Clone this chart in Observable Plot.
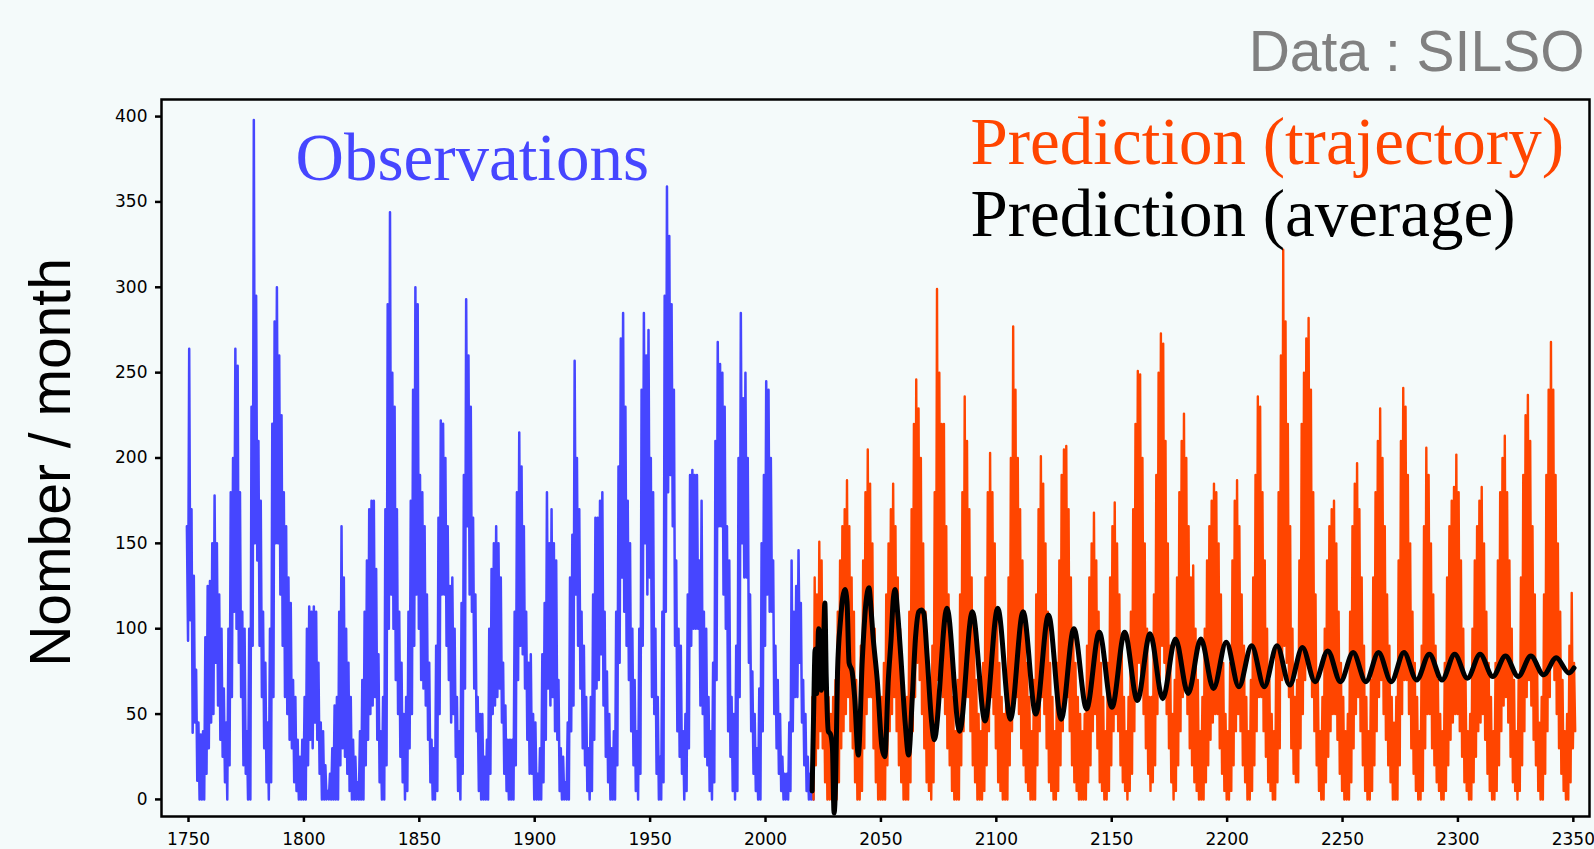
<!DOCTYPE html>
<html>
<head>
<meta charset="utf-8">
<script src="https://cdn.jsdelivr.net/npm/d3@7"></script>
<script src="https://cdn.jsdelivr.net/npm/@observablehq/plot@0.6"></script>
<style>
  html, body { margin: 0; padding: 0; background: #f4fafa; }
  #chart svg { display: block; }
</style>
</head>
<body>
<div id="chart"></div>
<script>
// Monthly sunspot number, summarised per year as the highest and lowest monthly value.
const obsStart = 1749;
const obsHigh = [
  160,264,170,131,76,45,38,40,95,125,
  128,150,178,150,120,100,65,45,100,180,
  200,264,254,180,110,100,40,100,230,398,
  295,210,175,110,80,45,100,220,280,300,
  260,225,180,160,130,115,70,60,35,25,
  35,60,100,113,110,113,110,80,45,40,
  20,5,15,30,55,60,110,160,130,100,
  80,60,35,25,10,40,70,110,140,170,
  175,175,135,85,40,60,170,290,344,250,
  230,170,110,80,50,60,110,175,240,300,
  290,190,180,160,120,80,35,30,90,165,
  222,220,200,160,125,130,100,60,40,115,
  190,293,260,230,165,120,60,50,50,25,
  35,100,135,150,160,150,130,80,55,35,
  35,35,110,180,215,195,160,110,80,85,
  50,45,15,30,85,115,180,150,170,150,
  140,70,30,25,10,45,130,155,257,200,
  170,110,90,60,30,60,120,165,165,175,
  180,110,75,50,30,40,110,195,270,285,
  230,175,150,100,70,40,100,240,285,260,
  275,200,180,100,60,25,110,295,359,330,
  290,240,140,100,90,40,50,120,190,193,
  190,190,140,175,110,100,60,40,80,210,
  268,255,250,230,160,140,60,50,90,200,
  285,235,250,200,120,75,50,30,65,150,
  190,245,240,200,140,90,70,50,25,15,
  15,45,140,110,125,146,115,70,50,25,
  15,25
];
const obsLow = [
  93,105,39,45,11,0,0,0,15,30,
  45,50,80,55,35,25,10,0,20,60,
  110,100,80,60,20,15,0,0,90,150,
  140,90,60,30,10,0,10,60,150,150,
  120,90,60,50,35,30,10,5,0,0,
  0,0,20,35,30,45,35,15,0,0,
  0,0,0,0,0,0,20,30,25,15,
  5,0,0,0,0,0,0,20,35,50,
  55,60,35,10,0,0,20,100,120,100,
  70,50,25,10,0,5,30,50,90,120,
  100,70,65,55,35,10,0,0,5,50,
  120,120,90,70,45,50,25,5,0,15,
  65,160,120,110,65,40,5,0,0,0,
  0,15,50,55,60,65,45,15,5,0,
  0,0,20,70,90,85,65,35,15,15,
  0,0,0,0,10,35,65,55,60,40,
  35,5,0,0,0,0,40,55,120,90,
  65,30,20,5,0,5,35,65,70,85,
  55,25,10,0,0,0,20,80,130,110,
  90,70,40,20,5,0,15,90,150,120,
  130,60,50,15,0,0,10,110,180,190,
  160,90,40,25,15,0,5,30,90,100,
  100,100,55,50,25,20,5,0,10,70,
  160,160,120,100,40,25,5,0,5,60,
  150,130,130,80,40,15,5,0,0,40,
  90,120,110,110,50,30,15,5,0,0,
  0,5,40,60,60,80,45,20,5,0,
  0,0
];

// One simulated future trajectory, same yearly summary.
const predStart = 2020;
const predHigh = [
  60,130,120,151,140,90,70,60,50,60,
  70,110,140,160,170,187,160,130,110,70,
  50,90,140,180,205,185,150,100,70,50,
  60,80,120,150,170,185,160,130,100,70,
  40,60,110,170,220,246,229,200,150,110,
  70,60,90,180,299,250,220,220,160,120,
  90,60,40,70,120,180,236,210,170,130,
  100,70,50,40,80,130,180,203,180,150,
  110,80,60,50,60,130,200,277,240,200,
  170,140,110,80,60,40,70,120,170,201,
  185,150,110,80,60,40,80,140,190,205,
  207,170,130,100,80,60,50,40,50,90,
  130,150,168,140,110,80,60,40,80,130,
  160,174,150,120,90,60,40,60,110,170,
  220,251,249,200,150,100,60,60,120,190,
  250,273,267,210,150,90,50,70,130,180,
  210,226,200,160,130,137,100,70,40,60,
  100,140,160,175,185,180,150,120,80,50,
  40,80,140,175,187,160,120,90,60,40,
  70,130,190,236,230,180,140,100,70,50,
  40,90,180,260,322,280,220,160,100,60,
  70,140,220,250,270,282,240,180,120,70,
  40,60,100,140,160,170,175,150,110,80,
  60,40,50,110,160,185,197,170,130,90,
  60,40,70,130,180,210,229,200,160,120,
  90,60,45,60,140,210,241,230,190,150,
  110,80,60,40,90,160,206,190,150,120,
  90,70,50,40,80,130,160,175,183,202,
  180,140,100,70,40,50,100,140,160,175,
  183,150,110,80,60,40,80,140,180,200,
  213,180,140,100,70,40,70,130,190,225,
  237,210,160,120,80,45,60,120,190,240,
  268,240,190,150,110,70,40,50,90,121,
  80
];
const predLow = [
  0,20,30,40,30,10,0,0,0,0,
  0,10,30,40,50,60,40,30,10,0,
  0,5,30,50,60,60,30,10,0,0,
  0,0,20,40,50,60,40,20,10,0,
  0,0,10,40,60,80,70,50,30,10,
  5,0,10,40,70,80,60,50,30,20,
  5,0,0,0,20,40,60,60,40,20,
  10,0,0,0,5,20,40,60,50,30,
  10,5,0,0,0,20,40,70,60,50,
  30,20,10,5,0,0,0,20,40,60,
  50,30,10,5,0,0,5,20,40,60,
  60,40,20,10,5,0,0,0,0,10,
  20,40,50,30,10,5,0,0,5,20,
  40,50,40,20,10,5,0,5,15,40,
  60,80,70,50,30,15,5,10,20,50,
  70,90,80,50,30,10,0,5,20,40,
  60,70,50,30,20,10,5,0,0,0,
  10,20,35,45,50,50,30,15,5,0,
  0,5,20,40,50,40,20,10,0,0,
  5,20,40,60,60,40,25,10,5,0,
  0,10,30,70,90,80,60,30,15,10,
  10,30,50,70,80,80,60,40,20,5,
  0,0,10,25,40,50,50,35,15,5,
  0,0,0,10,30,50,60,40,20,5,
  0,0,5,20,40,60,70,50,35,20,
  10,0,0,0,20,50,70,70,50,30,
  15,5,0,0,5,30,50,50,30,20,
  10,5,0,0,5,20,35,45,50,50,
  40,25,10,5,0,0,10,25,40,45,
  50,35,15,5,0,0,5,20,40,55,
  60,45,25,10,5,0,5,20,40,60,
  70,55,35,20,5,0,0,15,40,60,
  80,70,50,30,15,5,0,0,10,30,
  40
];

// Mean of the predicted ensemble: turning points of the smooth curve.
const avgYear = [
  2020.2,2020.9,2021.5,2022.2,2023.0,2023.6,2024.2,2025.0,2025.7,2026.3,
  2027.2,2028.2,2029.0,2029.7,2030.4,2031.2,2032.5,2034.4,2035.3,2036.2,
  2037.5,2038.6,2040.2,2041.9,2043.5,2044.8,2045.8,2046.5,2048.4,2050.5,
  2051.7,2053.2,2054.4,2055.4,2056.2,2057.2,2058.6,2060.5,2062.0,2063.6,
  2065.0,2066.4,2067.5,2068.6,2070.0,2072.0,2073.1,
  2078.6,2084.1,2089.6,2095.1,2100.6,2106.1,2111.6,2117.1,2122.6,2128.1,
  2133.6,2139.1,2144.6,2150.1,2155.6,2161.1,2166.6,2172.1,2177.6,2183.1,
  2188.6,2194.1,2199.6,2205.1,2210.6,2216.1,2221.6,2227.1,2232.6,2238.1,
  2243.6,2249.1,2254.6,2260.1,2265.6,2271.1,2276.6,2282.1,2287.6,2293.1,
  2298.6,2304.1,2309.6,2315.1,2320.6,2326.1,2331.6,2337.1,2342.6,2348.1,
  2350.3
];
const avgValue = [
  5,55,88,62,100,95,64,82,115,72,
  40,38,30,-8,12,75,105,123,116,80,
  75,60,26,81,115,124,110,97,70,30,
  25,70,94,118,123,110,84,45,26,60,
  95,110,111,109,84,45,35,
  112,40,110,46,112,47,110,50,108,47,
  100,53,98,54,98,58,97,59,94,62,
  94,65,92,66,90,66,90,67,89,69,
  87,69,86,69,86,69,86,70,85,70,
  85,71,85,72,84,72,84,73,83,74,
  77
];

const xTicks = [1750,1800,1850,1900,1950,2000,2050,2100,2150,2200,2250,2300,2350];
const yTicks = [0,50,100,150,200,250,300,350,400];

const blue = "#4646ff";
const red = "#ff4500";
const serif = "'Liberation Serif', 'Times New Roman', serif";
const sans = "'Liberation Sans', Arial, sans-serif";

// Each year contributes its high then its low, giving the dense monthly texture.
function yearlyTrace(start, high, low) {
  const rows = [];
  high.forEach((h, i) => {
    rows.push({year: start + i + 0.3, value: h});
    rows.push({year: start + i + 0.8, value: low[i]});
  });
  return rows;
}

const observed = yearlyTrace(obsStart, obsHigh, obsLow);
const trajectory = yearlyTrace(predStart, predHigh, predLow);
const average = avgYear.map((t, i) => ({year: t, value: avgValue[i]}));

const chart = Plot.plot({
  width: 1594,
  height: 849,
  marginLeft: 161,
  marginRight: 5,
  marginTop: 99,
  marginBottom: 33,
  style: {
    background: "#f4fafa",
    fontFamily: "'DejaVu Sans', sans-serif",
    fontSize: "17px",
    color: "black"
  },
  x: {domain: [1738.3, 2357.0], label: null},
  y: {domain: [-10, 410], label: null},
  marks: [
    Plot.axisX({ticks: xTicks, tickFormat: d => String(d), tickSize: 6, tickPadding: 10, strokeWidth: 2.5, label: null}),
    Plot.axisY({ticks: yTicks, tickFormat: d => String(d), tickSize: 6, tickPadding: 8, strokeWidth: 2.5, label: null}),
    Plot.line(observed, {x: "year", y: "value", stroke: blue, strokeWidth: 2.5}),
    Plot.line(trajectory, {x: "year", y: "value", stroke: red, strokeWidth: 2.4}),
    Plot.line(average, {x: "year", y: "value", stroke: "black", strokeWidth: 5, curve: "monotone-x"}),
    Plot.frame({stroke: "black", strokeWidth: 2.5}),
    Plot.text(["Observations"], {text: d => d, frameAnchor: "top-left", dx: 134, dy: 33.4, lineAnchor: "top", textAnchor: "start", fill: blue, fontSize: 67, fontFamily: serif}),
    Plot.text(["Prediction (trajectory)"], {text: d => d, frameAnchor: "top-left", dx: 809, dy: 17.4, lineAnchor: "top", textAnchor: "start", fill: red, fontSize: 67, fontFamily: serif}),
    Plot.text(["Prediction (average)"], {text: d => d, frameAnchor: "top-left", dx: 809, dy: 89.4, lineAnchor: "top", textAnchor: "start", fill: "black", fontSize: 67, fontFamily: serif}),
    Plot.text(["Data : SILSO"], {text: d => d, frameAnchor: "top-right", dx: -5, dy: -68.5, lineAnchor: "top", textAnchor: "end", fill: "#808080", fontSize: 57, fontFamily: sans}),
    Plot.text(["Nomber / month"], {text: d => d, frameAnchor: "left", rotate: -90, dx: -131.5, dy: 4.5, lineAnchor: "top", textAnchor: "middle", fill: "black", fontSize: 57, fontFamily: sans})
  ]
});

document.getElementById("chart").append(chart);
</script>
</body>
</html>
